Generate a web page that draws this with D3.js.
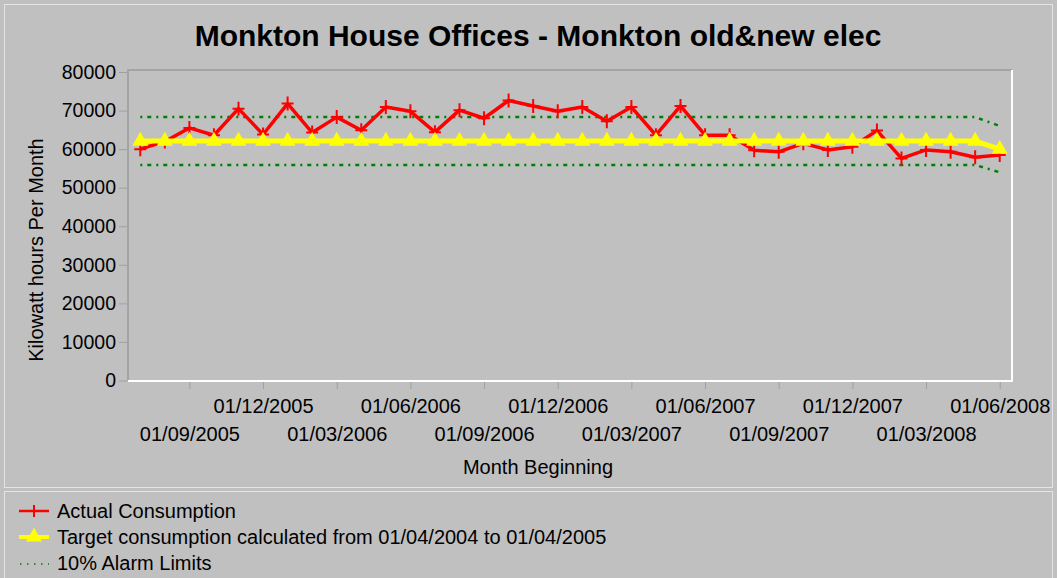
<!DOCTYPE html>
<html>
<head>
<meta charset="utf-8">
<script src="https://cdn.jsdelivr.net/npm/d3@7"></script>
<style>
  body { margin: 0; background: #c0c0c0; }
  svg { display: block; font-family: "Liberation Sans", Arial, sans-serif; }
</style>
</head>
<body>
<div id="chart"></div>
<script>
// monthly electricity use for Monkton House, with the target band from the 2004/05 baseline
const months = [
  "01/07/2005", "01/08/2005", "01/09/2005", "01/10/2005", "01/11/2005", "01/12/2005",
  "01/01/2006", "01/02/2006", "01/03/2006", "01/04/2006", "01/05/2006", "01/06/2006",
  "01/07/2006", "01/08/2006", "01/09/2006", "01/10/2006", "01/11/2006", "01/12/2006",
  "01/01/2007", "01/02/2007", "01/03/2007", "01/04/2007", "01/05/2007", "01/06/2007",
  "01/07/2007", "01/08/2007", "01/09/2007", "01/10/2007", "01/11/2007", "01/12/2007",
  "01/01/2008", "01/02/2008", "01/03/2008", "01/04/2008", "01/05/2008", "01/06/2008"
];
const actual = [
  60000, 62000, 65500, 63600, 70500, 63800, 71800, 64300, 68300, 64900, 70900, 69800,
  64400, 70100, 68000, 72600, 71200, 69800, 70900, 67200, 70900, 63600, 71200, 63600,
  63600, 59700, 59300, 61500, 59800, 60600, 64800, 57600, 59800, 59300, 57900, 58500
];
const target = [
  62100, 62100, 62100, 62100, 62100, 62100, 62100, 62100, 62100, 62100, 62100, 62100,
  62100, 62100, 62100, 62100, 62100, 62100, 62100, 62100, 62100, 62100, 62100, 62100,
  62100, 62100, 62100, 62100, 62100, 62100, 62100, 62100, 62100, 62100, 62100, 60000
];
const alarmHigh = [
  68310, 68310, 68310, 68310, 68310, 68310, 68310, 68310, 68310, 68310, 68310, 68310,
  68310, 68310, 68310, 68310, 68310, 68310, 68310, 68310, 68310, 68310, 68310, 68310,
  68310, 68310, 68310, 68310, 68310, 68310, 68310, 68310, 68310, 68310, 68310, 66000
];
const alarmLow = [
  55890, 55890, 55890, 55890, 55890, 55890, 55890, 55890, 55890, 55890, 55890, 55890,
  55890, 55890, 55890, 55890, 55890, 55890, 55890, 55890, 55890, 55890, 55890, 55890,
  55890, 55890, 55890, 55890, 55890, 55890, 55890, 55890, 55890, 55890, 55890, 54000
];
const xTickLabels = [
  "01/09/2005", "01/12/2005", "01/03/2006", "01/06/2006", "01/09/2006", "01/12/2006",
  "01/03/2007", "01/06/2007", "01/09/2007", "01/12/2007", "01/03/2008", "01/06/2008"
];
const yTicks = [0, 10000, 20000, 30000, 40000, 50000, 60000, 70000, 80000];
const legendLabels = [
  "Actual Consumption",
  "Target consumption calculated from 01/04/2004 to 01/04/2005",
  "10% Alarm Limits"
];

const width = 1057, height = 578;
const plot = { left: 128, right: 1012, top: 70, bottom: 381 };
const fontSize = 20;

const svg = d3.select('#chart')
  .append('svg')
  .attr('width', width)
  .attr('height', height);

// panel background and frames
svg.append('rect').attr('width', width).attr('height', height).attr('fill', '#c0c0c0');
svg.append('rect')
  .attr('x', 4.5).attr('y', 4.5).attr('width', width - 9).attr('height', 483)
  .attr('fill', 'none').attr('stroke', '#e4e4e4');
svg.append('rect')
  .attr('x', 4.5).attr('y', 491.5).attr('width', width - 9).attr('height', 90)
  .attr('fill', 'none').attr('stroke', '#e4e4e4');

// sunken plot border: dark top/left, white bottom/right
svg.append('path')
  .attr('d', `M${plot.left},${plot.bottom}V${plot.top}H${plot.right}`)
  .attr('fill', 'none').attr('stroke', '#a4a4a4').attr('stroke-width', 2);
svg.append('path')
  .attr('d', `M${plot.left},${plot.bottom}H${plot.right}V${plot.top}`)
  .attr('fill', 'none').attr('stroke', '#ffffff').attr('stroke-width', 2);

// title
svg.append('text')
  .attr('x', 538).attr('y', 46)
  .attr('text-anchor', 'middle')
  .attr('font-size', 30).attr('font-weight', 'bold')
  .text('Monkton House Offices - Monkton old&new elec');

// scales
const x = d3.scalePoint()
  .domain(months)
  .range([plot.left, plot.right])
  .padding(0.5);

const y = d3.scaleLinear()
  .domain([0, 80000])
  .range([380.5, 72]);

// Y axis
const yAxis = svg.append('g')
  .attr('transform', `translate(${plot.left - 1},0)`)
  .call(d3.axisLeft(y).tickValues(yTicks).tickSize(8).tickPadding(3).tickFormat(d3.format('d')));
yAxis.select('.domain').remove();
yAxis.selectAll('.tick line').attr('stroke', '#a0a0a0');
yAxis.selectAll('.tick text')
  .attr('font-size', fontSize - 0.5).attr('fill', '#000')
  .attr('font-family', '"Liberation Sans", Arial, sans-serif');

svg.append('text')
  .attr('transform', 'translate(43,250) rotate(-90)')
  .attr('text-anchor', 'middle')
  .attr('font-size', fontSize)
  .text('Kilowatt hours Per Month');

// X axis, labels staggered on two rows
const xAxis = svg.append('g')
  .attr('transform', `translate(0,${plot.bottom + 1})`)
  .call(d3.axisBottom(x).tickValues(xTickLabels).tickSize(7).tickPadding(0));
xAxis.select('.domain').remove();
xAxis.selectAll('.tick line').attr('stroke', '#a0a0a0');
xAxis.selectAll('.tick text')
  .attr('font-size', fontSize).attr('fill', '#000')
  .attr('font-family', '"Liberation Sans", Arial, sans-serif')
  .attr('dy', null)
  .attr('y', (d, i) => i % 2 === 0 ? 59 : 31);

svg.append('text')
  .attr('x', 538).attr('y', 474)
  .attr('text-anchor', 'middle')
  .attr('font-size', fontSize)
  .text('Month Beginning');

// lines
const line = d3.line()
  .x((d, i) => x(months[i]))
  .y(d => y(d));

svg.append('path').datum(alarmHigh)
  .attr('d', line).attr('fill', 'none')
  .attr('stroke', '#008000').attr('stroke-width', 2.5).attr('stroke-dasharray', '2,5,4,5');
svg.append('path').datum(alarmLow)
  .attr('d', line).attr('fill', 'none')
  .attr('stroke', '#008000').attr('stroke-width', 2.5).attr('stroke-dasharray', '2,5,4,5');

// actual consumption
svg.append('path').datum(actual)
  .attr('d', line).attr('fill', 'none')
  .attr('stroke', '#ff0000').attr('stroke-width', 3.5).attr('stroke-linejoin', 'round');
svg.selectAll('.plus')
  .data(actual)
  .enter()
  .append('path')
  .attr('class', 'plus')
  .attr('d', (d, i) => `M${x(months[i]) - 6},${y(d)}h12M${x(months[i])},${y(d) - 7}v14`)
  .attr('stroke', '#ff0000').attr('stroke-width', 2);

// target
svg.append('path').datum(target)
  .attr('d', line).attr('fill', 'none')
  .attr('stroke', '#ffff00').attr('stroke-width', 5);
const tri = d3.symbol().type(d3.symbolTriangle).size(110);
svg.selectAll('.tri')
  .data(target)
  .enter()
  .append('path')
  .attr('class', 'tri')
  .attr('d', tri)
  .attr('transform', (d, i) => `translate(${x(months[i])},${y(d)})`)
  .attr('fill', '#ffff00');

// legend
const legend = svg.append('g');
const rowY = [511, 537, 563];
legend.append('path').attr('d', `M19,${rowY[0]}H49`).attr('stroke', '#ff0000').attr('stroke-width', 2.5);
legend.append('path').attr('d', `M34,${rowY[0] - 6}v12`).attr('stroke', '#ff0000').attr('stroke-width', 2);
legend.append('path').attr('d', `M19,${rowY[1]}H49`).attr('stroke', '#ffff00').attr('stroke-width', 4);
legend.append('path').attr('d', tri).attr('transform', `translate(34,${rowY[1]})`).attr('fill', '#ffff00');
legend.append('path').attr('d', `M20,${rowY[2] + 1}H49`).attr('stroke', '#008000')
  .attr('stroke-width', 1.5).attr('stroke-dasharray', '1.5,5.5');
legend.selectAll('.lbl')
  .data(legendLabels)
  .enter()
  .append('text')
  .attr('class', 'lbl')
  .attr('x', 57)
  .attr('y', (d, i) => rowY[i] + 7)
  .attr('font-size', fontSize)
  .text(d => d);
</script>
</body>
</html>
